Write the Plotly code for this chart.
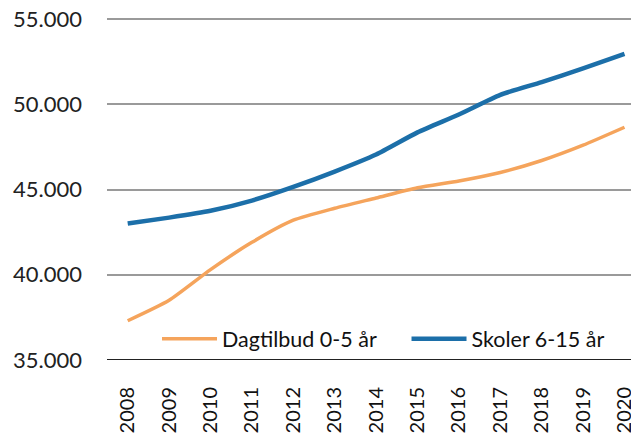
import plotly.graph_objects as go

years = [str(y) for y in range(2008, 2021)]
dagtilbud = [37300, 38500, 40300, 41900, 43200, 43900, 44500, 45100, 45500, 46000, 46700, 47600, 48650]
skoler = [43000, 43350, 43750, 44350, 45150, 46050, 47050, 48350, 49400, 50550, 51300, 52100, 52950]

fig = go.Figure()
fig.add_trace(go.Scatter(
    x=years, y=dagtilbud, name="Dagtilbud 0-5 år", mode="lines",
    line=dict(color="#f5a45c", width=3.5, shape="spline", smoothing=0.6),
    legend="legend", showlegend=True,
))
fig.add_trace(go.Scatter(
    x=years, y=skoler, name="Skoler 6-15 år", mode="lines",
    line=dict(color="#1c6fa9", width=4.5, shape="spline", smoothing=0.6),
    legend="legend2", showlegend=True,
))

legend_style = dict(
    yanchor="middle", xanchor="left", y=0.062, itemwidth=55,
    font=dict(size=21.5, color="#111"), bgcolor="rgba(255,255,255,0)",
)

# the page adds an 8px body margin, so the figure is drawn 8px smaller
fig.update_layout(
    width=631, height=429,
    margin=dict(l=99, r=0, t=9, b=77, autoexpand=False),
    paper_bgcolor="white", plot_bgcolor="white",
    separators=",.",
    font=dict(family="Lato, 'Open Sans', sans-serif", size=20, color="#222"),
    legend=dict(x=0.094, **legend_style),
    legend2=dict(x=0.563, **legend_style),
    xaxis=dict(
        type="category", range=[-0.5, 12.35], tickangle=-90, automargin=False,
        showgrid=False, showline=False, ticks="", ticklabelstandoff=22,
        ticklabeloverflow="allow",
        tickfont=dict(size=20, color="#111"),
    ),
    yaxis=dict(
        range=[35000, 55117], tickvals=[35000, 40000, 45000, 50000, 55000],
        tickformat=",d", automargin=False, ticklabeloverflow="allow",
        showgrid=True, gridcolor="#9a9a9a", gridwidth=2,
        zeroline=False, showline=False, ticks="", ticklabelstandoff=24,
        tickfont=dict(size=22, color="#222"),
    ),
)
# black baseline at 35.000
fig.add_hline(y=35000, line=dict(color="#222", width=2), layer="below")

fig.write_html("out.html")
